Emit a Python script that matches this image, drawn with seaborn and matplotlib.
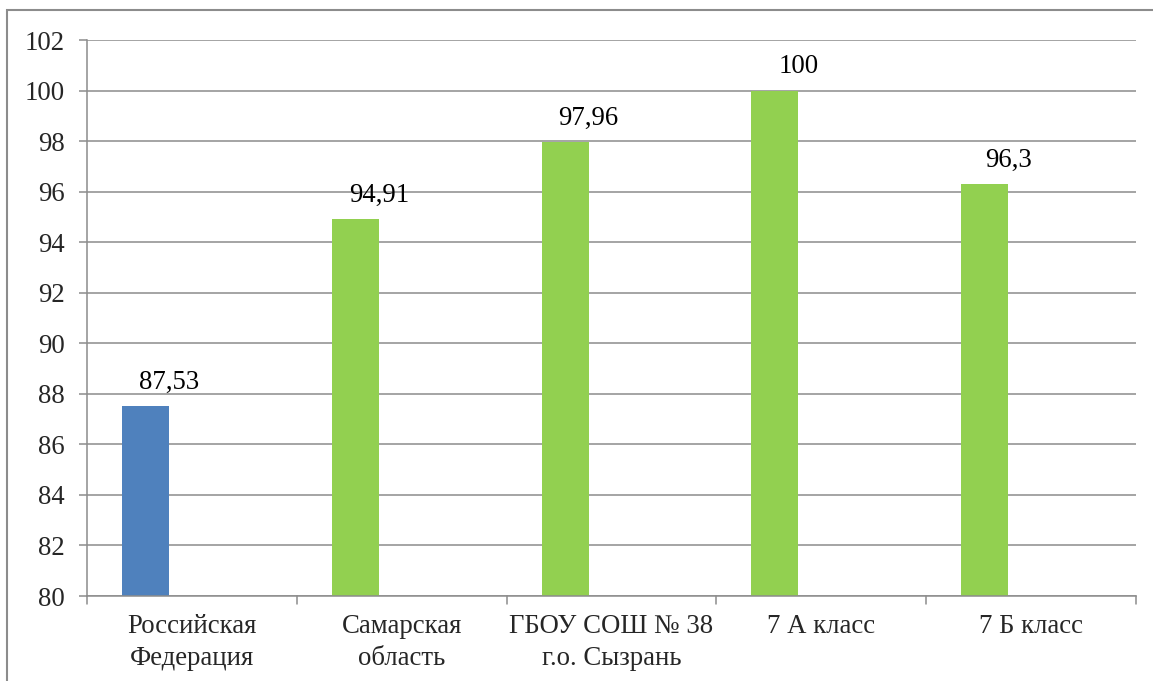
import matplotlib
matplotlib.use("Agg")
import matplotlib.pyplot as plt
from matplotlib.patches import Rectangle
import seaborn as sns
import pandas as pd

categories = ["Российская\nФедерация", "Самарская\nобласть", "ГБОУ СОШ № 38\nг.о. Сызрань",
              "7 А класс", "7 Б класс"]
values = [87.53, 94.91, 97.96, 100, 96.3]
value_labels = ["87,53", "94,91", "97,96", "100", "96,3"]
bar_colors = ["#4F81BD", "#92D050", "#92D050", "#92D050", "#92D050"]
y_ticks = list(range(80, 103, 2))

sns.set_theme(style="white")
plt.rcParams["font.family"] = "serif"
plt.rcParams["font.serif"] = ["Liberation Serif", "DejaVu Serif"]
FAM = ["Liberation Serif", "DejaVu Serif"]

df = pd.DataFrame({"cat": categories, "val": values})

fig = plt.figure(figsize=(11.53, 6.81), dpi=100)
ax = fig.add_axes([87 / 1153, 1 - 596 / 681, (1136 - 87) / 1153, (596 - 40) / 681])

bar_w = 0.224
shift = -0.221
grid_col = "#8c8c8c"
fs = 19.3

sns.barplot(data=df, x="cat", y="val", hue="cat", palette=bar_colors, legend=False,
            width=bar_w, ax=ax, zorder=3, saturation=1)
for p in ax.patches:
    p.set_x(p.get_x() + shift)
    p.set_edgecolor("none")

ax.set_ylim(80, 102)
ax.set_xlim(-0.5, 4.5)
ax.set_yticks(y_ticks)
ax.set_yticklabels([str(t) for t in y_ticks], fontsize=fs, family=FAM)
for t in y_ticks:
    ax.axhline(t, color=grid_col, lw=1.1, zorder=1)

for i, (v, lab) in enumerate(zip(values, value_labels)):
    ax.annotate(lab, (i + shift + bar_w / 2, v), xytext=(0, 8), textcoords="offset points",
                ha="center", va="bottom", fontsize=fs, color="black", family=FAM)

ax.set_xticks([i for i in range(len(categories))])
ax.set_xticklabels(categories, fontsize=fs, linespacing=1.35, family=FAM)
ax.tick_params(axis="x", length=0, pad=13)
ax.tick_params(axis="y", length=5.8, color=grid_col, width=1.1, direction="out", pad=10, left=True)
# category boundary ticks on the x axis
for b in [i - 0.5 for i in range(len(categories) + 1)]:
    ax.plot([b, b], [0, -0.014], transform=ax.get_xaxis_transform(), color=grid_col,
            lw=1.1, clip_on=False, zorder=4)

ax.set_xlabel("")
ax.set_ylabel("")
for s in ["top", "right"]:
    ax.spines[s].set_visible(False)
for s in ["left", "bottom"]:
    ax.spines[s].set_color(grid_col)
    ax.spines[s].set_linewidth(1.1)
    ax.spines[s].set_zorder(5)

# outer chart border
fig.patches.append(Rectangle((7 / 1153, -0.2), 1.2, 1.2 - 10 / 681, transform=fig.transFigure,
                             fill=False, edgecolor=grid_col, lw=1.5, zorder=0))

fig.savefig("out.png", dpi=100)
